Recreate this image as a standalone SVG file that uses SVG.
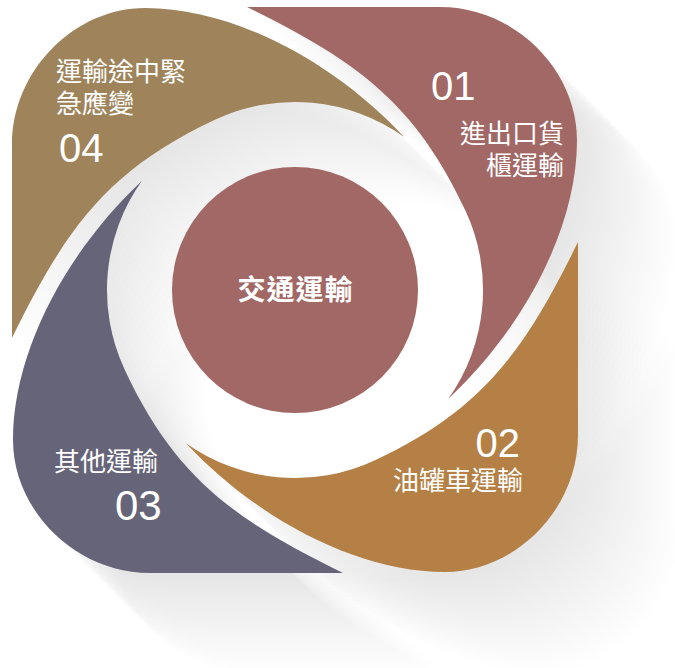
<svg xmlns="http://www.w3.org/2000/svg" xmlns:xlink="http://www.w3.org/1999/xlink" width="675" height="668" viewBox="0 0 675 668">
<style>
.cjk{font-family:"Noto Sans CJK TC","Noto Sans CJK SC",sans-serif;font-size:26px;fill:#fff}
.num{font-family:"Liberation Sans",Arial,sans-serif;font-size:40px;fill:#fff}
.ctr{font-family:"Noto Sans CJK TC","Noto Sans CJK SC",sans-serif;font-size:28px;font-weight:700;fill:#fff;letter-spacing:1px}
</style>
<defs>
<path id="pshape" d="M247,7 L440,7 C515,7 577,70 577,140 C577,230 522,330 448.2,399 A188,188 0 0 0 465.4,210.5 C414.7,101.7 355,60 247,7 Z"/>
<g id="allshapes">
<use href="#pshape"/>
<use href="#pshape" transform="rotate(90 295 290)"/>
<use href="#pshape" transform="rotate(180 295 290)"/>
<use href="#pshape" transform="rotate(270 295 290)"/>
</g>
</defs>
<rect width="675" height="668" fill="#fff"/>
<g id="shadow" fill="#000" fill-opacity="0.005">
<use href="#allshapes" transform="translate(4,4)"/>
<use href="#allshapes" transform="translate(8,8)"/>
<use href="#allshapes" transform="translate(12,12)"/>
<use href="#allshapes" transform="translate(16,16)"/>
<use href="#allshapes" transform="translate(20,20)"/>
<use href="#allshapes" transform="translate(24,24)"/>
<use href="#allshapes" transform="translate(28,28)"/>
<use href="#allshapes" transform="translate(32,32)"/>
<use href="#allshapes" transform="translate(36,36)"/>
<use href="#allshapes" transform="translate(40,40)"/>
<use href="#allshapes" transform="translate(44,44)"/>
<use href="#allshapes" transform="translate(48,48)"/>
<use href="#allshapes" transform="translate(52,52)"/>
<use href="#allshapes" transform="translate(56,56)"/>
<use href="#allshapes" transform="translate(60,60)"/>
<use href="#allshapes" transform="translate(64,64)"/>
<use href="#allshapes" transform="translate(68,68)"/>
<use href="#allshapes" transform="translate(72,72)"/>
<use href="#allshapes" transform="translate(76,76)"/>
<use href="#allshapes" transform="translate(80,80)"/>
<use href="#allshapes" transform="translate(84,84)"/>
<use href="#allshapes" transform="translate(88,88)"/>
<use href="#allshapes" transform="translate(92,92)"/>
<use href="#allshapes" transform="translate(96,96)"/>
<use href="#allshapes" transform="translate(100,100)"/>
</g>
<g id="connectors"/>
<g id="node-01">
<use href="#pshape" fill="#A16866"/>
<text class="num" x="431" y="100">01</text>
<text class="cjk" x="564" y="143" text-anchor="end">進出口貨</text>
<text class="cjk" x="564" y="175" text-anchor="end">櫃運輸</text>
</g>
<g id="node-02">
<use href="#pshape" fill="#B58045" transform="rotate(90 295 290)"/>
<text class="num" x="520" y="457" text-anchor="end">02</text>
<text class="cjk" x="523" y="490" text-anchor="end">油罐車運輸</text>
</g>
<g id="node-03">
<use href="#pshape" fill="#666478" transform="rotate(180 295 290)"/>
<text class="cjk" x="54" y="471">其他運輸</text>
<text class="num" x="115" y="520" style="font-size:42px">03</text>
</g>
<g id="node-04">
<use href="#pshape" fill="#9E835B" transform="rotate(270 295 290)"/>
<text class="cjk" x="56" y="81">運輸途中緊</text>
<text class="cjk" x="56" y="113">急應變</text>
<text class="num" x="59" y="162">04</text>
</g>
<g id="node-center">
<circle cx="295" cy="290" r="123" fill="#A16866"/>
<text class="ctr" x="295.5" y="300" text-anchor="middle">交通運輸</text>
</g>
</svg>
